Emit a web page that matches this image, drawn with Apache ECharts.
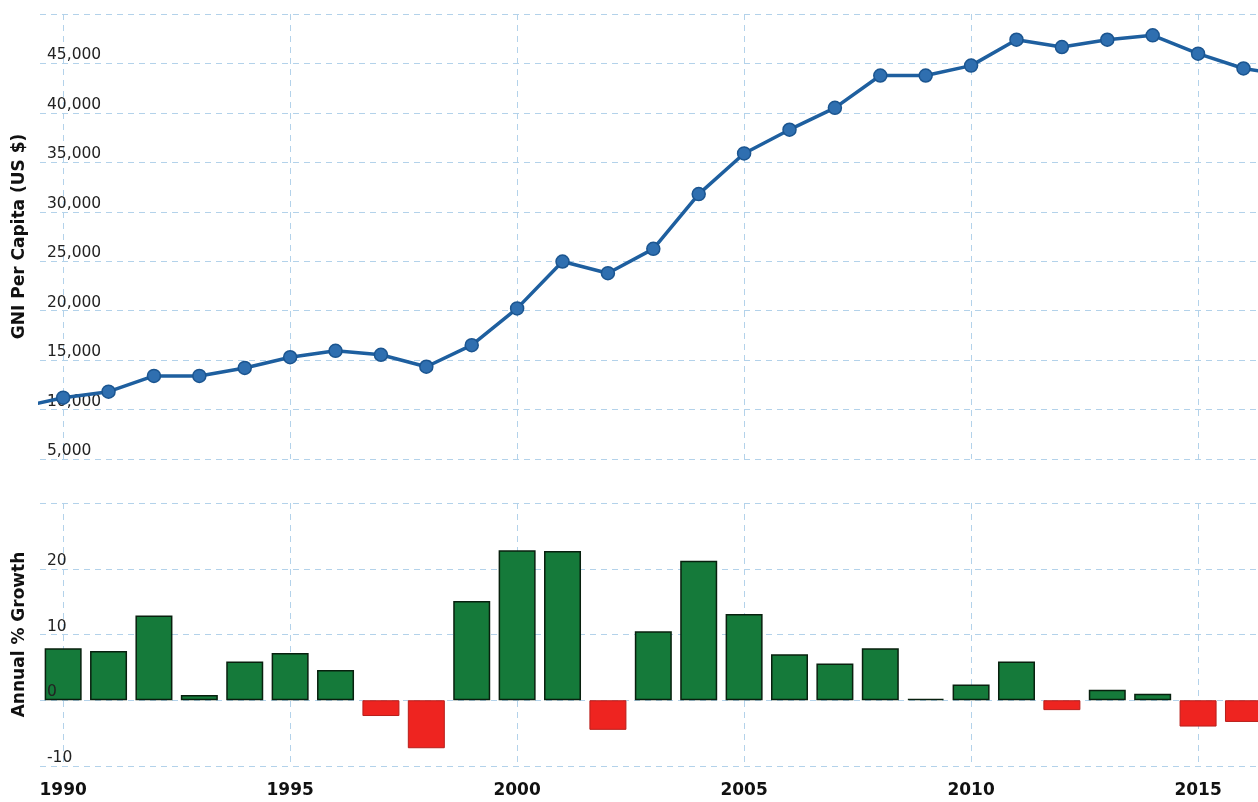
<!DOCTYPE html>
<html>
<head>
<meta charset="utf-8">
<script src="https://cdn.jsdelivr.net/npm/echarts@6/dist/echarts.min.js"></script>
<style>
  html, body { margin: 0; padding: 0; background: #fff; }
  #chart { width: 1258px; height: 802px; }
</style>
</head>
<body>
<div id="chart"></div>
<script>
// years shown on the line (1989 and 2017 sit just outside the plot and get clipped)
const lineYears = [1989, 1990, 1991, 1992, 1993, 1994, 1995, 1996, 1997, 1998, 1999, 2000, 2001, 2002,
    2003, 2004, 2005, 2006, 2007, 2008, 2009, 2010, 2011, 2012, 2013, 2014, 2015, 2016, 2017];
const gniPerCapita = [10200, 11200, 11810, 13400, 13400, 14210, 15290, 15940, 15540, 14330, 16510, 20230, 24970, 23790,
    26250, 31790, 35900, 38300, 40510, 43780, 43780, 44780, 47400, 46660, 47400, 47840, 45990, 44490, 43760];

const growthYears = [1990, 1991, 1992, 1993, 1994, 1995, 1996, 1997, 1998, 1999, 2000, 2001, 2002,
    2003, 2004, 2005, 2006, 2007, 2008, 2009, 2010, 2011, 2012, 2013, 2014, 2015, 2016];
const growthPct = [7.9, 7.5, 12.9, 0.8, 5.9, 7.2, 4.6, -2.4, -7.3, 15.1, 22.8, 22.7, -4.5,
    10.5, 21.2, 13.1, 7.0, 5.6, 7.9, 0.2, 2.4, 5.9, -1.5, 1.6, 1.0, -4.0, -3.3];

const yearTicks = [1990, 1995, 2000, 2005, 2010, 2015];

const font = 'DejaVu Sans';
const gridColor = '#b3d2ea';
const xMin = 1989.49, xMax = 2016.32;

const splitLine = {show: true, lineStyle: {color: gridColor, type: [6, 5], width: 1}};

const chart = echarts.init(document.getElementById('chart'));

const yLabel = {
    inside: true,
    margin: 7,
    verticalAlign: 'bottom',
    color: '#222',
    fontSize: 15.5,
    fontFamily: font,
    showMaxLabel: false,
    showMinLabel: true
};
const yName = {color: '#111', fontSize: 17, fontWeight: 'bold', fontFamily: font};

const option = {
    animation: false,
    backgroundColor: '#fff',
    grid: [
        {left: 40, right: 0, top: 14, height: 445},
        {left: 40, right: 0, top: 503, height: 263}
    ],
    xAxis: [
        {
            type: 'value', gridIndex: 0, min: xMin, max: xMax,
            axisLine: {show: false, onZero: false},
            axisTick: {show: false, customValues: yearTicks},
            axisLabel: {show: false, customValues: yearTicks},
            splitLine: splitLine
        },
        {
            type: 'value', gridIndex: 1, min: xMin, max: xMax,
            axisLine: {show: false, onZero: false},
            axisTick: {show: false, customValues: yearTicks},
            axisLabel: {
                customValues: yearTicks,
                formatter: v => String(v),
                margin: 16,
                color: '#111',
                fontSize: 17,
                fontWeight: 'bold',
                fontFamily: font
            },
            splitLine: splitLine
        }
    ],
    yAxis: [
        {
            type: 'value', gridIndex: 0, position: 'left',
            min: 5000, max: 50000, interval: 5000,
            name: 'GNI Per Capita (US $)',
            nameLocation: 'middle',
            nameGap: 12,
            nameTextStyle: yName,
            axisLine: {show: false, onZero: false},
            axisTick: {show: false},
            axisLabel: yLabel,
            splitLine: splitLine
        },
        {
            type: 'value', gridIndex: 1, position: 'left',
            min: -10, max: 30, interval: 10,
            name: 'Annual % Growth',
            nameLocation: 'middle',
            nameGap: 12,
            nameTextStyle: yName,
            axisLine: {show: false, onZero: false},
            axisTick: {show: false},
            axisLabel: {show: false},
            splitLine: splitLine
        },
        {
            // same scale, only the labels, drawn above the bars
            type: 'value', gridIndex: 1, position: 'left', offset: 0,
            min: -10, max: 30, interval: 10,
            z: 10,
            axisLine: {show: false, onZero: false},
            axisTick: {show: false},
            axisLabel: yLabel,
            splitLine: {show: false}
        }
    ],
    series: [
        {
            type: 'line',
            xAxisIndex: 0, yAxisIndex: 0,
            data: lineYears.map((y, i) => [y, gniPerCapita[i]]),
            symbol: 'circle',
            symbolSize: 13,
            lineStyle: {color: '#1e5f9f', width: 3.5},
            itemStyle: {color: '#2f6fb0', borderColor: '#1b5590', borderWidth: 1.5},
            z: 3
        },
        {
            type: 'bar',
            xAxisIndex: 1, yAxisIndex: 1,
            barWidth: 37,
            z: 1,
            data: growthYears.map((y, i) => {
                const v = growthPct[i];
                return {
                    value: [y, v],
                    itemStyle: v >= 0
                        ? {color: '#157a3a', borderColor: '#08200e', borderWidth: 1.5}
                        : {color: '#ee2420', borderColor: '#b81e1a', borderWidth: 1}
                };
            })
        }
    ]
};

chart.setOption(option);
</script>
</body>
</html>
